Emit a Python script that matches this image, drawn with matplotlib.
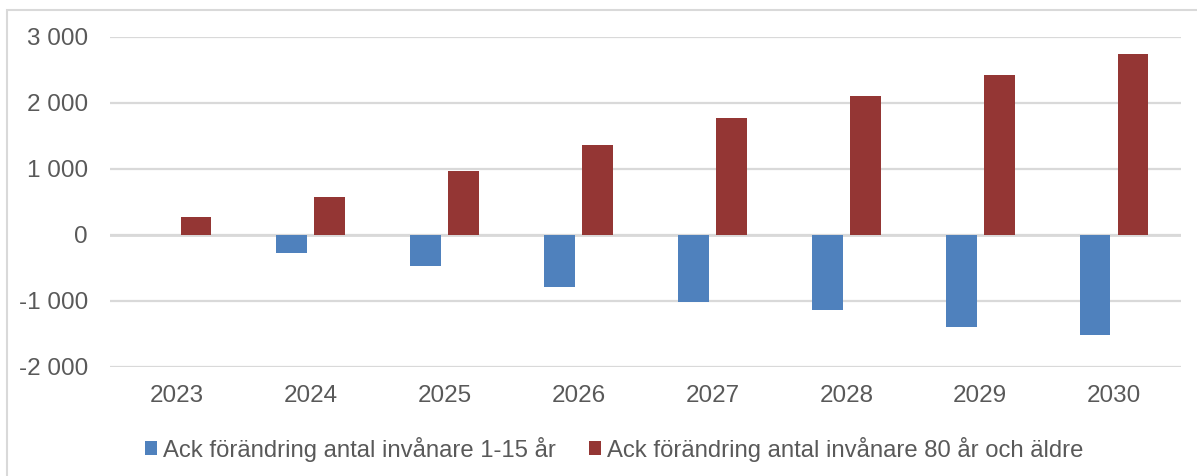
import matplotlib.pyplot as plt
import matplotlib.patches as mpatches
from matplotlib.ticker import FuncFormatter, MultipleLocator
import numpy as np

plt.rcParams['font.family'] = ['Liberation Sans', 'DejaVu Sans']

years = ["2023", "2024", "2025", "2026", "2027", "2028", "2029", "2030"]
barn = [0, -270, -465, -783, -1010, -1131, -1389, -1510]
aldre = [273, 576, 970, 1364, 1773, 2106, 2424, 2742]

labels = ["Ack förändring antal invånare 1-15 år",
          "Ack förändring antal invånare 80 år och äldre"]
blue = "#4F81BD"
red = "#943634"
grey_text = "#595959"

fig = plt.figure(figsize=(11.97, 4.76), dpi=100)
ax = fig.add_axes([0.0919, 0.229, 0.8947, 0.694])

# ram runt hela diagrammet
fig.patches.append(mpatches.Rectangle((7 / 1197, -0.1), 1.2, 1 - 10 / 476 + 0.1,
                                      transform=fig.transFigure, fill=False,
                                      edgecolor="#d9d9d9", linewidth=1.5))

x = np.arange(len(years))
w = 0.23
off = 0.142
ax.bar(x - off, barn, width=w, color=blue, label=labels[0], zorder=3)
ax.bar(x + off, aldre, width=w, color=red, label=labels[1], zorder=3)

ax.set_xlim(-0.5, len(years) - 0.5)
ax.set_ylim(-2000, 3000)
ax.yaxis.set_major_locator(MultipleLocator(1000))
ax.yaxis.set_major_formatter(FuncFormatter(
    lambda v, p: f"{int(v):,}".replace(",", " ")))
ax.grid(axis="y", color="#d9d9d9", linewidth=1.6, zorder=0)
ax.axhline(0, color="#d9d9d9", linewidth=2, zorder=2)

ax.set_xticks(x)
ax.set_xticklabels(years)
ax.tick_params(axis="y", length=0, pad=16, labelsize=17.5, labelcolor=grey_text)
ax.tick_params(axis="x", length=0, pad=13, labelsize=17.5, labelcolor=grey_text)
for s in ax.spines.values():
    s.set_visible(False)

fig.legend(loc="center", bbox_to_anchor=(0.513, 1 - 449 / 476), ncol=2,
           frameon=False, fontsize=17.2, handlelength=0.5, handleheight=0.55,
           handletextpad=0.25, columnspacing=1.4, labelcolor=grey_text)

plt.savefig("out.png", dpi=100)
